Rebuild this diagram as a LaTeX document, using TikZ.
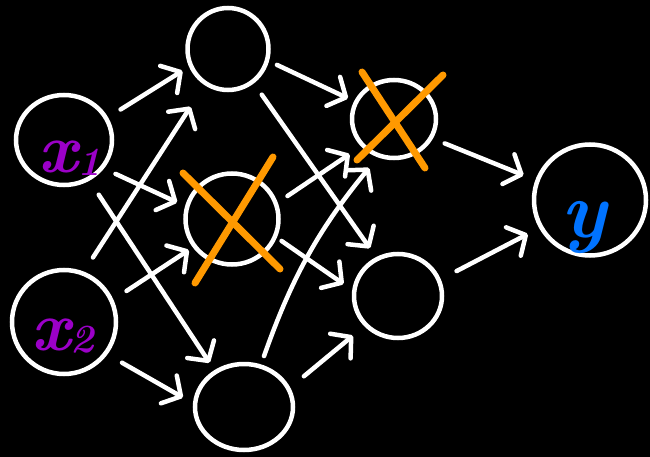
\documentclass[tikz,border=0pt]{standalone}
\usetikzlibrary{shapes.geometric,arrows.meta}
\definecolor{xpurple}{RGB}{155,0,200}
\definecolor{yblue}{RGB}{0,115,255}
\definecolor{crossorange}{RGB}{255,153,0}
\tikzset{
  neuron/.style={draw=white, line width=4.5pt, ellipse, inner sep=0pt, outer sep=0pt},
  conn/.style={draw=white, line width=4.5pt, line cap=round,
    -{Straight Barb[length=14pt,width=32pt,round]}},
  crossline/.style={draw=crossorange, line width=7pt, line cap=round},
  lbl/.style={inner sep=0pt, anchor=base west},
}
\newcommand{\subsc}[1]{\raisebox{-0.04em}{\fontsize{40}{40}\selectfont #1}}
\begin{document}
\begin{tikzpicture}[x=1pt,y=-1pt]
\fill[black] (0,0) rectangle (650,457);
\useasboundingbox (0,0) rectangle (650,457);

% neurons
\node[neuron, minimum width=96pt, minimum height=90pt] (x1) at (64,140) {};
\node[neuron, minimum width=104pt, minimum height=104pt] (x2) at (64,322) {};
\node[neuron, minimum width=81pt, minimum height=82pt] (h1) at (228,49) {};
\node[neuron, minimum width=93pt, minimum height=91pt] (h2) at (232,219) {};
\node[neuron, minimum width=98pt, minimum height=86pt] (h3) at (244,407) {};
\node[neuron, minimum width=84pt, minimum height=78pt] (g1) at (394,119) {};
\node[neuron, minimum width=88pt, minimum height=84pt] (g2) at (398,296) {};
\node[neuron, minimum width=112pt, minimum height=111pt] (y) at (590,200) {};

% labels
\node[lbl, text=xpurple, font=\fontsize{70}{70}\selectfont\bfseries\itshape] (lx1) at (38,173) {x\subsc{1}};
\node[lbl, text=xpurple, font=\fontsize{70}{70}\selectfont\bfseries\itshape] (lx2) at (31,350) {x\subsc{2}};
\node[lbl, text=yblue, font=\fontsize{80}{80}\selectfont\bfseries\itshape] (ly) at (561,237) {y};

% input -> hidden 1
\draw[conn, shorten <=17pt, shorten >=10pt] (x1.27) -- (h1.204.6);
\draw[conn, shorten <=15pt, shorten >=11pt] (x1.-36.5) -- (h2.165);
\draw[conn, shorten <=19pt, shorten >=11pt] (x1.-58.6) -- (h3.129.4);
\draw[conn, shorten <=19pt, shorten >=28pt] (x2.69.5) -- (h1.237.2);
\draw[conn, shorten <=18pt, shorten >=7pt] (x2.24) -- (h2.216);
\draw[conn, shorten <=19pt, shorten >=14pt] (x2.-37) -- (h3.177.3);

% hidden 1 -> hidden 2
\draw[conn, shorten <=11pt, shorten >=9pt] (h1.-16) -- (g1.156.5);
\draw[conn, shorten <=16pt, shorten >=13pt] (h1.-53.3) -- (g2.119.7);
\draw[conn, shorten <=14pt, shorten >=16pt] (h2.19) -- (g1.220);
\draw[conn, shorten <=8pt, shorten >=13pt] (h2.-22.4) -- (g2.174);
\draw[conn, shorten <=11pt, shorten >=16pt] (h3.68.4) to[bend left=10] (g1.248.6);
\draw[conn, shorten <=20pt, shorten >=17pt] (h3.22.9) -- (g2.222.3);

% hidden 2 -> output
\draw[conn, shorten <=15pt, shorten >=15pt] (g1.-27.5) -- (y.160);
\draw[conn, shorten <=20pt, shorten >=15pt] (g2.21.8) -- (y.209.7);

% dropout crosses
\draw[crossline] (183,173) -- (280,269);
\draw[crossline] (273,157) -- (195,283);
\draw[crossline] (362,72) -- (425,168);
\draw[crossline] (443,75) -- (357,160);
\end{tikzpicture}
\end{document}
